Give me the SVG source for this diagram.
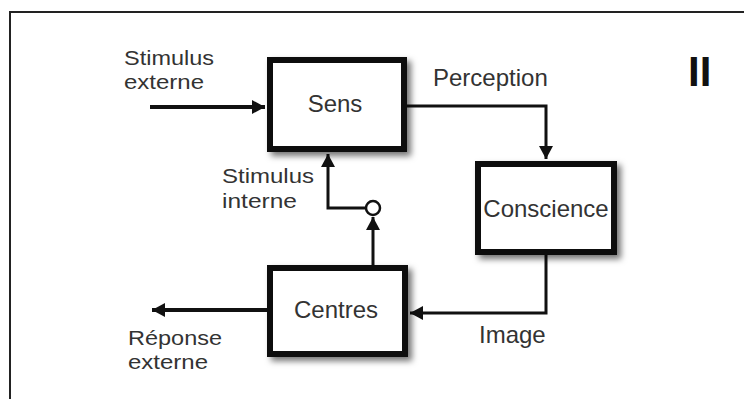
<svg xmlns="http://www.w3.org/2000/svg" width="744" height="399" viewBox="0 0 744 399">
<style>
  .lbl { font-family: "Liberation Sans", Arial, sans-serif; font-size: 24px; fill: #333; }
  .ml { font-size: 21px; }
  .box { fill: #fff; stroke: #111; stroke-width: 6; filter: url(#sh); }
  .ln { fill: none; stroke: #111; stroke-width: 3; }
  .thick { stroke-width: 4; }
</style>
<defs>
  <filter id="sh" x="-20%" y="-20%" width="150%" height="150%">
    <feDropShadow dx="4" dy="4" stdDeviation="3" flood-color="#000" flood-opacity="0.55"/>
  </filter>
  <marker id="ah" markerUnits="userSpaceOnUse" markerWidth="14" markerHeight="14" refX="13" refY="7" orient="auto">
    <path d="M0,0 L13,7 L0,14 z" fill="#111"/>
  </marker>
</defs>
<rect x="0" y="0" width="744" height="399" fill="#fff"/>
<path d="M10,399 V12 H744" fill="none" stroke="#222" stroke-width="2"/>

<g id="connectors">
  <path class="ln thick" d="M150,107 H265" marker-end="url(#ah)"/>
  <path class="ln" d="M407,106 H546 V159" marker-end="url(#ah)"/>
  <path class="ln" d="M546,255 V313 H410" marker-end="url(#ah)"/>
  <path class="ln thick" d="M267,310 H152" marker-end="url(#ah)"/>
  <path class="ln" d="M373,265 V217" marker-end="url(#ah)"/>
  <path class="ln" d="M366,208 H328 V154" marker-end="url(#ah)"/>
  <circle cx="373" cy="208" r="7" fill="#fff" stroke="#111" stroke-width="2.5"/>
</g>

<g id="sens">
  <rect class="box" x="270" y="60" width="134" height="89"/>
  <text class="lbl" x="335" y="112" text-anchor="middle">Sens</text>
</g>
<g id="conscience">
  <rect class="box" x="478" y="164" width="136" height="88"/>
  <text class="lbl" x="546" y="217" text-anchor="middle" font-size="23">Conscience</text>
</g>
<g id="centres">
  <rect class="box" x="270" y="268" width="135" height="86"/>
  <text class="lbl" x="336" y="318" text-anchor="middle">Centres</text>
</g>

<g id="labels">
  <text class="lbl ml" x="124" y="65" textLength="90" lengthAdjust="spacingAndGlyphs">Stimulus</text>
  <text class="lbl ml" x="124" y="89" textLength="80" lengthAdjust="spacingAndGlyphs">externe</text>
  <text class="lbl" x="433" y="86">Perception</text>
  <text class="lbl ml" x="222" y="183" textLength="92" lengthAdjust="spacingAndGlyphs">Stimulus</text>
  <text class="lbl ml" x="222" y="208" textLength="75" lengthAdjust="spacingAndGlyphs">interne</text>
  <text class="lbl" x="479" y="343">Image</text>
  <text class="lbl ml" x="128" y="345" textLength="94" lengthAdjust="spacingAndGlyphs">Réponse</text>
  <text class="lbl ml" x="128" y="369" textLength="80" lengthAdjust="spacingAndGlyphs">externe</text>
  <text x="688" y="86" font-family="Liberation Sans, Arial, sans-serif" font-weight="bold" font-size="42" fill="#111">II</text>
</g>
</svg>
